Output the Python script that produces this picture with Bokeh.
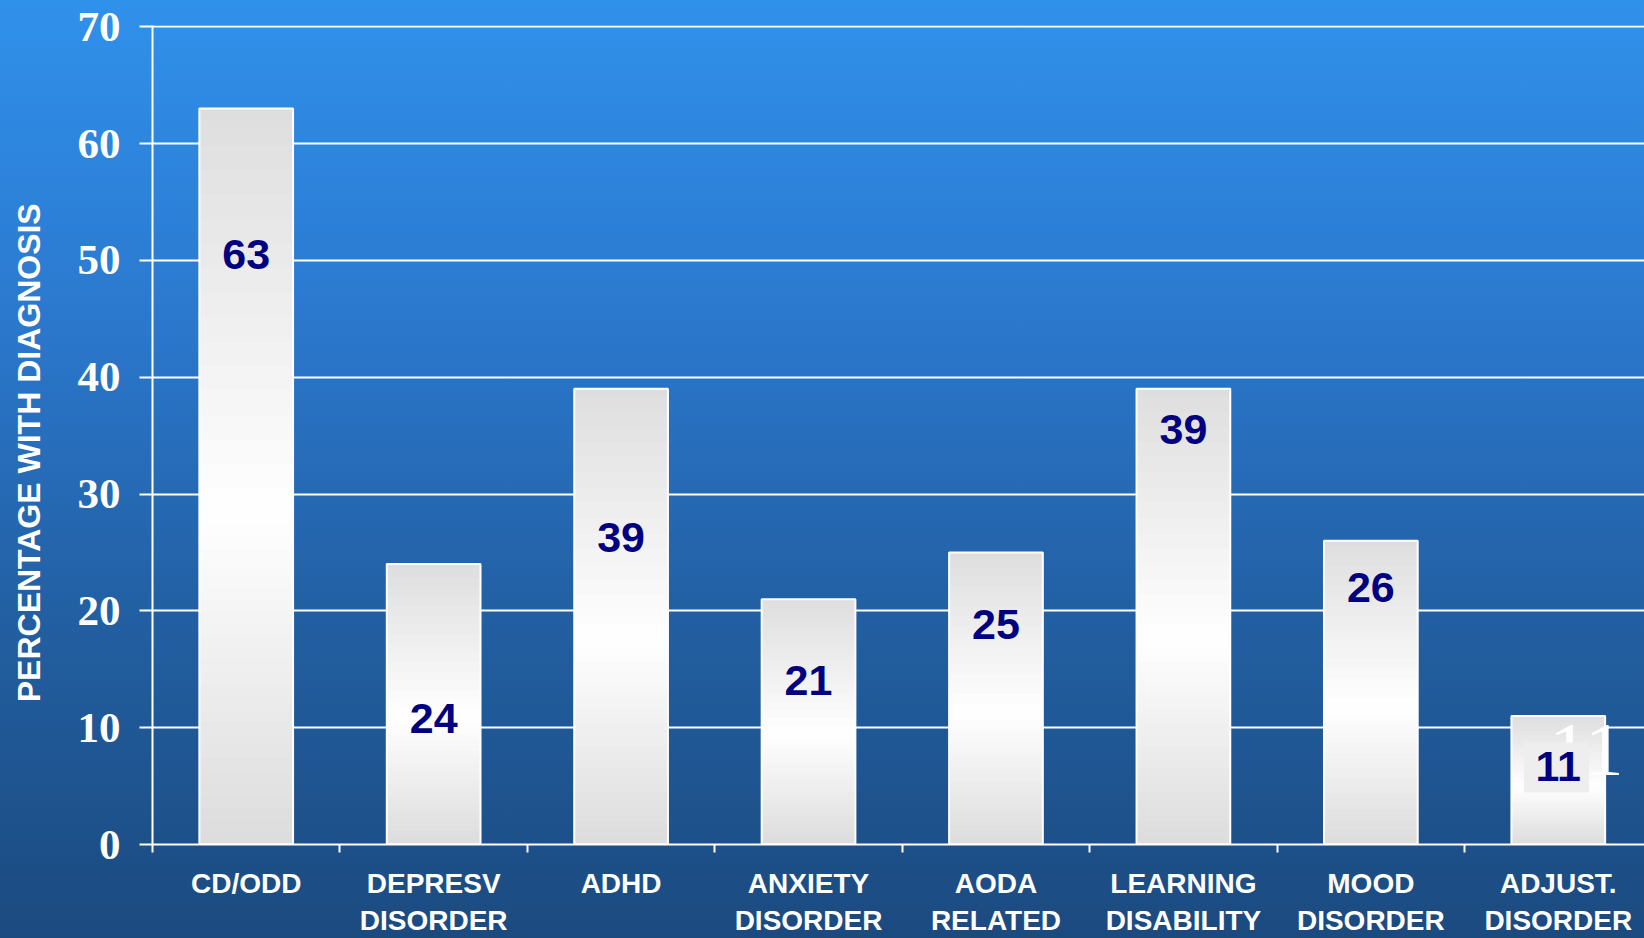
from bokeh.plotting import figure
from bokeh.models import FixedTicker, Range1d
from bokeh.core.properties import value
from bokeh.embed import file_html
from bokeh.resources import INLINE

# ---- data ----
categories = ["CD/ODD", "DEPRESV\nDISORDER", "ADHD", "ANXIETY\nDISORDER",
              "AODA\nRELATED", "LEARNING\nDISABILITY", "MOOD\nDISORDER", "ADJUST.\nDISORDER"]
percentages = [63, 24, 39, 21, 25, 39, 26, 11]
y_ticks = [0, 10, 20, 30, 40, 50, 60, 70]
y_title = "PERCENTAGE WITH DIAGNOSIS"

# ---- styling / positions ----
label_y = [50.5, 10.8, 26.3, 14.0, 18.8, 35.5, 22.0, 6.65]   # where each value label sits (data units)
BAR_W = 0.5
N_SLICES = 60

W, H = 1644, 938
p = figure(width=W, height=H, output_backend="svg", toolbar_location=None,
           x_range=Range1d(0, 7.96), y_range=Range1d(0, 70.1),
           min_border_left=152, min_border_top=25, min_border_right=0, min_border_bottom=92)
p.styles = {"background": "linear-gradient(180deg, #3091EB 0%, #2B79CF 33%, #225FA2 66%, #1B4A7F 100%)"}
p.background_fill_color = None
p.border_fill_color = None
p.outline_line_color = None

centers = [i + 0.5 for i in range(len(categories))]
bounds = [float(i) for i in range(len(categories) + 1)]


def lerp(c1, c2, t):
    return "#%02x%02x%02x" % tuple(int(round(a + (b - a) * t)) for a, b in zip(c1, c2))


gray_bot = (0xDC, 0xDC, 0xDC)
gray_top = (0xDE, 0xDE, 0xDE)
white = (0xFF, 0xFF, 0xFF)
WHITE_AT = 0.45

xs, bots, tops, cols = [], [], [], []
for xc, v in zip(centers, percentages):
    for k in range(N_SLICES):
        t = (k + 0.5) / N_SLICES
        if t < WHITE_AT:
            c = lerp(gray_bot, white, t / WHITE_AT)
        else:
            c = lerp(white, gray_top, (t - WHITE_AT) / (1 - WHITE_AT))
        xs.append(xc)
        bots.append(v * k / N_SLICES)
        tops.append(min(v, v * (k + 1.6) / N_SLICES))
        cols.append(c)

p.vbar(x=xs, bottom=bots, top=tops, width=BAR_W, fill_color=cols, line_color=None)
p.vbar(x=centers, bottom=0, top=percentages, width=BAR_W, fill_color=None,
       line_color="white", line_width=2)

# ghost artefact on the last bar
last = len(categories) - 1
p.text(x=[centers[last] + 0.15], y=[8.06], text=[str(percentages[last])],
       text_font=value("Liberation Serif"), text_font_size="77px", text_color="white",
       text_align="center", text_baseline="middle")
p.rect(x=[centers[last] - 0.01], y=[label_y[last] - 0.05], width=65, height=50,
       width_units="screen", height_units="screen", fill_color="#EEEEEE", line_color=None)

p.text(x=centers, y=label_y, text=[str(v) for v in percentages],
       text_font=value("Liberation Sans"), text_font_style="bold", text_font_size="43px",
       text_color="#000080", text_align="center", text_baseline="middle")

# ---- axes ----
ya = p.yaxis[0]
ya.ticker = FixedTicker(ticks=y_ticks)
ya.axis_line_color = "white"
ya.axis_line_width = 2
ya.major_tick_line_color = "white"
ya.major_tick_line_width = 2
ya.major_tick_in = 0
ya.major_tick_out = 13
ya.minor_tick_line_color = None
ya.major_label_text_font = "Liberation Serif"
ya.major_label_text_font_style = "bold"
ya.major_label_text_font_size = "43px"
ya.major_label_text_color = "white"
ya.major_label_standoff = 19
ya.axis_label = y_title + "\u00a0" * 4
ya.axis_label_text_font = "Liberation Sans"
ya.axis_label_text_font_style = "bold"
ya.axis_label_text_font_size = "32px"
ya.axis_label_text_color = "white"
ya.axis_label_standoff = 28

xa = p.xaxis[0]
xa.ticker = FixedTicker(ticks=centers, minor_ticks=bounds)
xa.major_label_overrides = {c: lab for c, lab in zip(centers, categories)}
xa.axis_line_color = "white"
xa.axis_line_width = 2
xa.major_tick_line_color = None
xa.major_tick_in = 0
xa.major_tick_out = 0
xa.minor_tick_line_color = "white"
xa.minor_tick_line_width = 2
xa.minor_tick_in = 0
xa.minor_tick_out = 8
xa.major_label_text_font = "Liberation Sans"
xa.major_label_text_font_style = "bold"
xa.major_label_text_font_size = "28px"
xa.major_label_text_color = "white"
xa.major_label_text_line_height = 1.2
xa.major_label_standoff = 15

p.xgrid.visible = False
p.ygrid.ticker = FixedTicker(ticks=y_ticks)
p.ygrid.grid_line_color = "white"
p.ygrid.grid_line_width = 2

open("out.html", "w").write(file_html(p, INLINE))
